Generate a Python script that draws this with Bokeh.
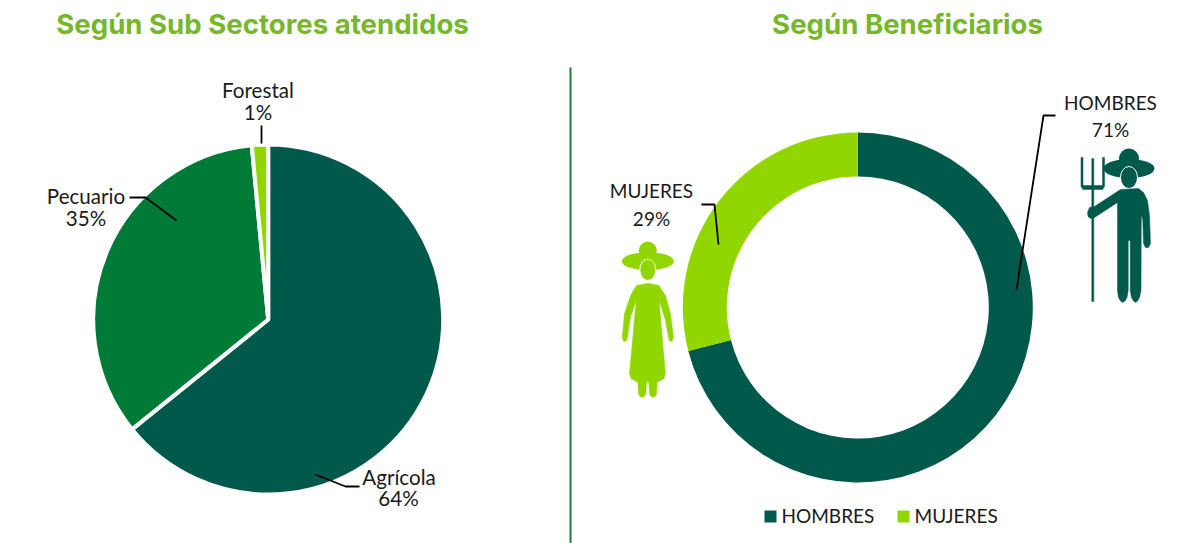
from bokeh.plotting import figure
from bokeh.models import Range1d
from bokeh.core.properties import value
from bokeh.embed import file_html
from bokeh.resources import INLINE
import math

# ---- data
sector_names = ["Agrícola", "Pecuario", "Forestal"]
sector_shares = [64.2, 34.3, 1.5]
sector_labels = ["64%", "35%", "1%"]
benef_names = ["HOMBRES", "MUJERES"]
benef_shares = [71, 29]
benef_labels = ["71%", "29%"]
titles = ["Según Sub Sectores atendidos", "Según Beneficiarios"]

DARK = "#00594A"
MID = "#007A37"
LIME = "#92D600"
TITLE = "#76B82A"
TXT = "#1a1a1a"
sector_colors = [DARK, MID, LIME]
benef_colors = [DARK, LIME]

W, H = 1179, 543
p = figure(width=W, height=H, output_backend="svg", toolbar_location=None,
           x_range=Range1d(0, W), y_range=Range1d(-H, 0),
           min_border=0, outline_line_color=None, background_fill_color="white",
           border_fill_color="white")
p.xaxis.visible = False
p.yaxis.visible = False
p.grid.visible = False


def angles(shares):
    """clockwise from the top, returned as pairs of math angles"""
    out, acc, tot = [], 0.0, sum(shares)
    for s in shares:
        a0 = math.pi / 2 - 2 * math.pi * acc / tot
        acc += s
        a1 = math.pi / 2 - 2 * math.pi * acc / tot
        out.append((a1, a0))
    return out


# pie
for (a, b), c in zip(angles(sector_shares), sector_colors):
    p.wedge(x=267.7, y=-319, radius=175, start_angle=a, end_angle=b,
            fill_color=c, line_color="white", line_width=4)

# donut
for (a, b), c in zip(angles(benef_shares), benef_colors):
    p.annular_wedge(x=857.3, y=-307, inner_radius=131, outer_radius=175,
                    start_angle=a, end_angle=b, fill_color=c, line_color=None)

# divider
p.line([570, 570], [-67, -543], line_color="#1E7B3C", line_width=2)


def leader(pts):
    p.line([q[0] for q in pts], [-q[1] for q in pts], line_color="black", line_width=1.8)


leader([(261, 125), (261, 143)])
leader([(129, 197), (145, 197), (176, 220)])
leader([(315, 474), (345, 486), (359, 486)])
leader([(1055, 115), (1043, 115), (1016, 289)])
leader([(701, 204), (714, 204), (718, 244)])


def label(x, y, t, size="19px", color=TXT, font="Lato", style="normal", align="center"):
    p.text(x=[x], y=[-y], text=[t], text_font=value(font), text_font_size=value(size),
           text_color=color, text_align=align, text_baseline="middle", text_font_style=style)


label(262, 23, titles[0], "27.6px", TITLE, "Inter", "bold")
label(907, 23, titles[1], "27.6px", TITLE, "Inter", "bold")

PIE = "20.6px"
label(257.5, 89.5, sector_names[2], PIE); label(257.5, 111.5, sector_labels[2], PIE)
label(85.5, 195.5, sector_names[1], PIE); label(85.5, 217.5, sector_labels[1], PIE)
label(398.5, 476.5, sector_names[0], PIE); label(398, 497.5, sector_labels[0], PIE)
label(1110, 102, benef_names[0]); label(1110, 129, benef_labels[0])
label(651, 190, benef_names[1]); label(651, 218, benef_labels[1])

# legend
for x0, tx, n, c in [(764, 781, benef_names[0], DARK), (897, 914, benef_names[1], LIME)]:
    p.quad(left=x0, right=x0 + 12, top=-510, bottom=-522, fill_color=c, line_color=None)
    label(tx, 514.5, n, align="left")


def poly(pts, color):
    p.patch([a for a, b in pts], [-b for a, b in pts],
            fill_color=color, line_color=color, line_width=0.5, line_join="round")


def ell(cx, cy, rx, ry, color, line=None):
    p.ellipse(x=cx, y=-cy, width=2 * rx, height=2 * ry,
              fill_color=color, line_color=line, line_width=1)


# man
ell(1128.5, 158, 10, 10, DARK)
ell(1128.5, 168, 25.5, 9.5, DARK)
ell(1128.5, 177, 8.5, 11, DARK, "white")
poly([(1120, 189), (1138, 188), (1143, 192), (1147, 200), (1149, 215), (1150, 243), (1148, 247),
      (1145, 247), (1143, 243), (1142.3, 220), (1141.5, 216), (1140.8, 216), (1140.5, 290), (1139, 297),
      (1137, 300.5), (1135, 302), (1133, 300.5), (1131, 297), (1129.7, 290), (1129.7, 240),
      (1127.7, 240), (1127.7, 290), (1126.5, 297), (1124.5, 300.5), (1122, 302), (1120, 300.5),
      (1118, 297), (1117, 290), (1117, 202), (1094, 217), (1090, 218), (1087.5, 216), (1087, 212),
      (1089, 207), (1094, 206)], DARK)
# fork
poly([(1091.3, 158), (1093.3, 158), (1093.3, 301), (1091.3, 301)], DARK)
poly([(1080.5, 157), (1082.5, 157), (1082.5, 185), (1102, 185), (1102, 157), (1104, 157), (1104, 186),
      (1102, 189), (1082.5, 189), (1080.5, 186)], DARK)

# woman (crop coordinates at 3x, origin 600, 170)
w = lambda pts: [(600 + a / 3, 170 + b / 3) for a, b in pts]
ell(647.3, 250, 9, 9, LIME)
ell(647.3, 260.7, 26, 9, LIME)
ell(647.3, 269.3, 8, 10.7, LIME, "white")
poly(w([(142, 338), (175, 345), (195, 375), (210, 430), (219, 500), (216, 510), (212, 513), (207, 511), (205, 505),
        (195, 450), (176, 390), (185, 500), (195, 610), (190, 625), (170, 635), (168, 670),
        (164, 678), (158, 680), (151, 678), (147, 670), (145, 635), (138, 635), (136, 670), (132, 678), (125, 680),
        (118, 678), (114, 670), (112, 635), (92, 625), (87, 610), (97, 500), (107, 390), (90, 440), (80, 505),
        (77, 511), (72, 513), (68, 510), (65, 500), (72, 430), (90, 375), (108, 345)]), LIME)

open("out.html", "w").write(file_html(p, INLINE))
